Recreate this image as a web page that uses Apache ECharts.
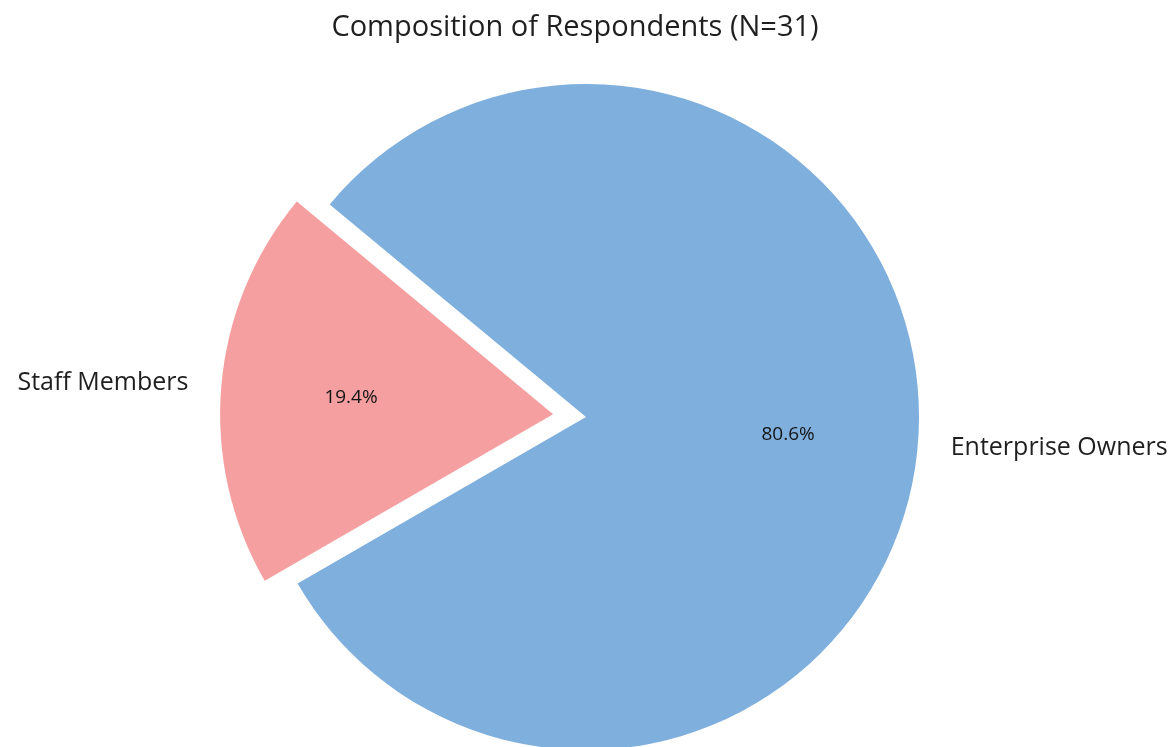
<!DOCTYPE html>
<html>
<head>
<meta charset="utf-8">
<title>Composition of Respondents</title>
<script src="https://cdn.jsdelivr.net/npm/echarts@6/dist/echarts.min.js"></script>
<style>
  html, body { margin: 0; padding: 0; background: #ffffff; }
  #chart { width: 1176px; height: 747px; }
</style>
</head>
<body>
<div id="chart"></div>
<script>
// Respondent groups and their counts (N = 31)
const categories = ['Staff Members', 'Enterprise Owners'];
const counts = [6, 25];
const sliceColors = ['#f59fa0', '#7fafdd'];
const explodedGroup = 'Staff Members';
const chartTitle = 'Composition of Respondents (N=31)';

const FONT = '"Open Sans", "DejaVu Sans", sans-serif';
const CENTER = [586, 417];
const R = 333;

const pieData = categories.map((name, i) => ({
  name: name,
  value: counts[i],
  selected: name === explodedGroup,
  itemStyle: { color: sliceColors[i] },
  select: { itemStyle: { color: sliceColors[i] } }
}));

const labelData = categories.map((name, i) => ({
  name: name,
  value: counts[i],
  selected: name === explodedGroup
}));

const chart = echarts.init(document.getElementById('chart'), null, { renderer: 'canvas' });

chart.setOption({
  backgroundColor: '#ffffff',
  animation: false,
  title: {
    text: chartTitle,
    left: 570,
    top: 8,
    textAlign: 'center',
    textStyle: { fontFamily: FONT, fontSize: 29, fontWeight: 'normal', color: '#1f1f1f' }
  },
  series: [
    {
      // wedges with category names outside
      type: 'pie',
      center: CENTER,
      radius: [0, R],
      startAngle: 210,
      clockwise: true,
      selectedMode: 'single',
      selectedOffset: 33,
      avoidLabelOverlap: false,
      silent: true,
      emphasis: { disabled: true },
      data: pieData,
      label: {
        show: true,
        position: 'outside',
        formatter: '{b}',
        fontFamily: FONT,
        fontSize: 25,
        color: '#1f1f1f',
        distanceToLabelLine: 0
      },
      labelLine: { show: false, length: 33, length2: 0 }
    },
    {
      // transparent ring used to place the percentage labels at 0.6 R
      type: 'pie',
      center: CENTER,
      radius: [R * 0.2, R],
      startAngle: 210,
      clockwise: true,
      selectedMode: 'single',
      selectedOffset: 33,
      avoidLabelOverlap: false,
      silent: true,
      percentPrecision: 1,
      emphasis: { disabled: true },
      itemStyle: { color: 'rgba(0,0,0,0)' },
      select: { itemStyle: { color: 'rgba(0,0,0,0)' } },
      data: labelData,
      label: {
        show: true,
        position: 'inside',
        formatter: '{d}%',
        fontFamily: FONT,
        fontSize: 19,
        color: '#141414'
      },
      labelLine: { show: false }
    }
  ]
});
</script>
</body>
</html>
